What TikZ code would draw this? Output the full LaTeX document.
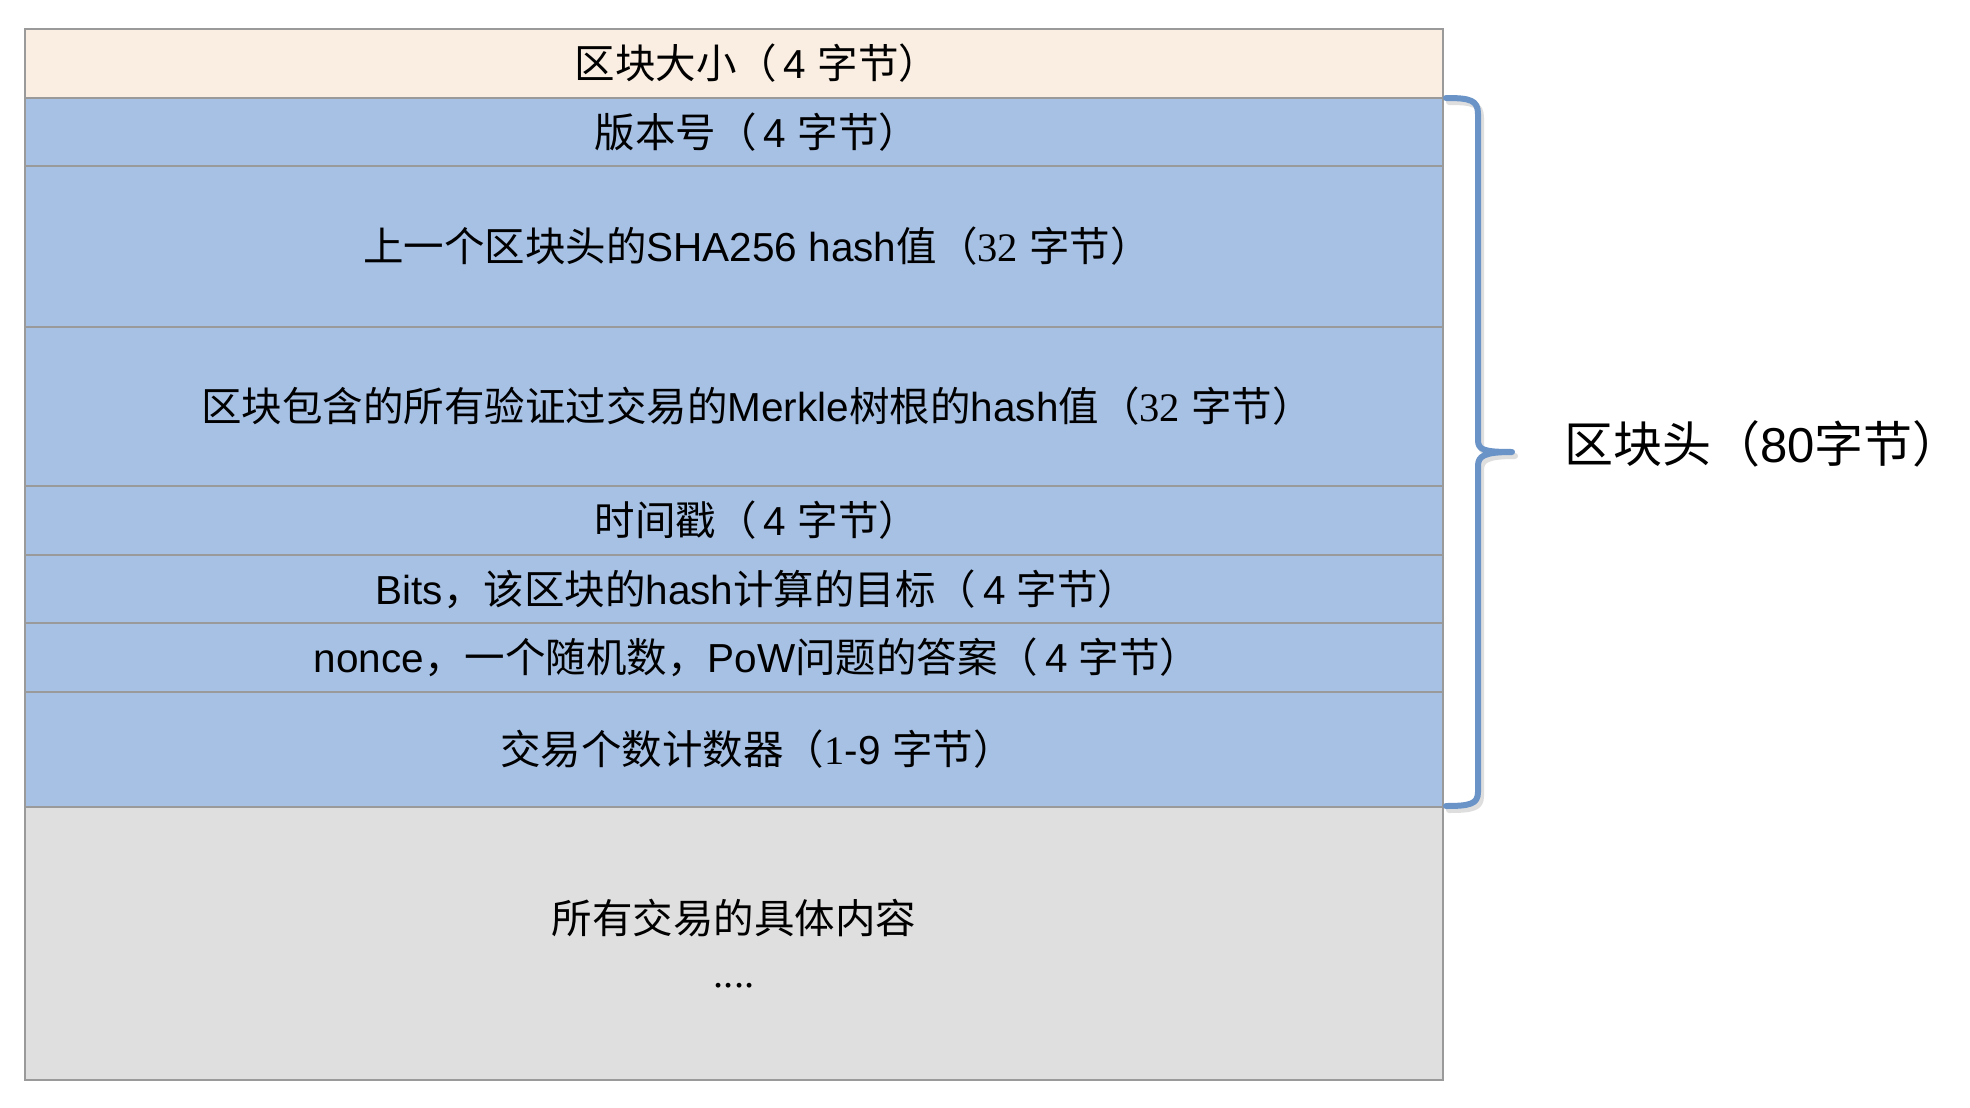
\documentclass[tikz,border=0pt]{standalone}
\usepackage{fontspec}
\setmainfont{Liberation Sans}
\newfontfamily\zhfont{Noto Sans CJK SC}
\newfontfamily\serifnum{Liberation Serif}
\newcommand{\zh}[1]{{\zhfont #1}}
\newcommand{\sn}[1]{{\serifnum #1}}
\newcommand{\leadpad}{\hspace*{46pt}}
\definecolor{beige}{HTML}{FAEEE2}
\definecolor{rowblue}{HTML}{A7C1E5}
\definecolor{rowgrey}{HTML}{DFDFDF}
\definecolor{edgegrey}{HTML}{9A9A9A}
\definecolor{bracecol}{HTML}{6A93C8}
\tikzset{
  rowbox/.style={draw=edgegrey, line width=2pt, minimum width=1418pt, inner sep=0pt, anchor=center, align=center,
    font=\fontsize{40.5}{48}\selectfont},
  bracepath/.style={draw=bracecol, line width=6pt, line cap=round, line join=round},
}
\begin{document}
\begin{tikzpicture}[x=1pt,y=-1pt]
\useasboundingbox (0,0) rectangle (1970,1108);
\fill[white] (0,0) rectangle (1970,1108);
\node[rowbox, fill=beige, minimum height=68.5pt] (r1) at (734,63.25) {\leadpad\zh{区块大小（}\,4 \zh{字节）}};
\node[rowbox, fill=rowblue, minimum height=68.5pt] (r2) at (734,131.75) {\leadpad\zh{版本号（}\,4 \zh{字节）}};
\node[rowbox, fill=rowblue, minimum height=161pt] (r3) at (734,246.5) {\leadpad\zh{上一个区块头的}SHA256 hash\zh{值（}\sn{32} \zh{字节）}};
\node[rowbox, fill=rowblue, minimum height=159pt] (r4) at (734,406.5) {\leadpad\zh{区块包含的所有验证过交易的}Merkle\zh{树根的}hash\zh{值（}\sn{32} \zh{字节）}};
\node[rowbox, fill=rowblue, minimum height=69pt] (r5) at (734,520.5) {\leadpad\zh{时间戳（}\,4 \zh{字节）}};
\node[rowbox, fill=rowblue, minimum height=68pt] (r6) at (734,589) {\leadpad Bits\zh{，该区块的}hash\zh{计算的目标（}\,4 \zh{字节）}};
\node[rowbox, fill=rowblue, minimum height=69pt] (r7) at (734,657.5) {\leadpad nonce\zh{，一个随机数，}PoW\zh{问题的答案（}\,4 \zh{字节）}};
\node[rowbox, fill=rowblue, minimum height=115pt] (r8) at (734,749.5) {\leadpad\zh{交易个数计数器（}\sn{1}-9 \zh{字节）}};
\node[rowbox, fill=rowgrey, minimum height=273pt] (r9) at (734,943.5) {\zh{所有交易的具体内容}\\[6pt]\sn{....}};
% brace shadow
\draw[black!25, opacity=0.5, line width=6pt, line cap=round, line join=round, xshift=3pt, yshift=-4pt]
  (1446,98) .. controls (1470,98) and (1478,100) .. (1478,114) -- (1478,440)
  .. controls (1478,450) and (1484,452) .. (1512,452)
  .. controls (1484,452) and (1478,456) .. (1478,466) -- (1478,792)
  .. controls (1478,804) and (1470,806) .. (1446,806);
% brace
\draw[bracepath]
  (1446,98) .. controls (1470,98) and (1478,100) .. (1478,114) -- (1478,440)
  .. controls (1478,450) and (1484,452) .. (1512,452)
  .. controls (1484,452) and (1478,456) .. (1478,466) -- (1478,792)
  .. controls (1478,804) and (1470,806) .. (1446,806);
\node[anchor=west, inner sep=0pt, font=\fontsize{49}{56}\selectfont] (lbl) at (1564,444) {\zh{区块头（}80\zh{字节）}};
\end{tikzpicture}
\end{document}
